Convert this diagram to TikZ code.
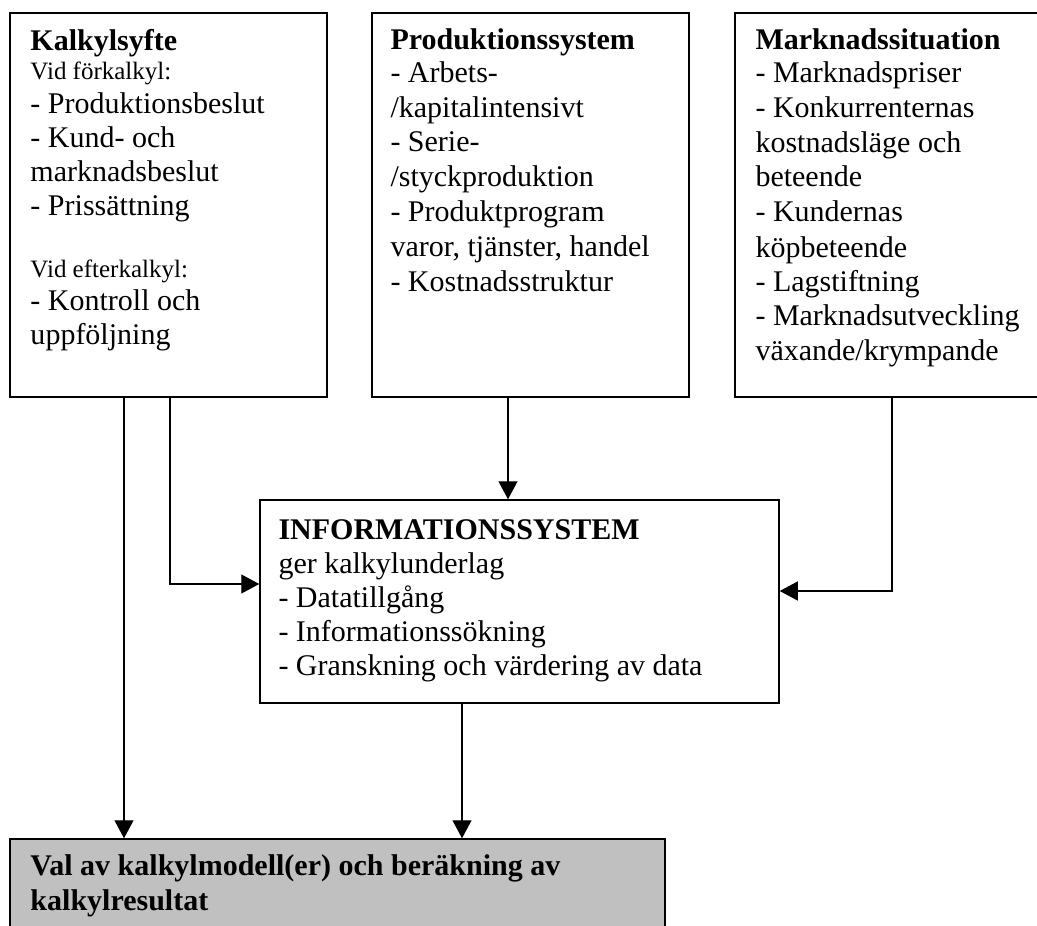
\documentclass[tikz,border=0pt]{standalone}
\usepackage{fontspec}
\setmainfont{Liberation Serif}
\usetikzlibrary{arrows.meta,fit}
\begin{document}
\begin{tikzpicture}[x=0.4pt,y=-0.4pt,
  box/.style={draw=black,line width=0.6pt,inner sep=0pt,rectangle},
  arr/.style={line width=0.5pt,-{Triangle[length=7.2pt,width=7.6pt]}},
  tx/.style={anchor=base west,inner sep=0pt,font=\fontsize{12}{14}\selectfont},
  tb/.style={tx,font=\fontsize{12}{14}\selectfont\bfseries},
  ts/.style={tx,font=\fontsize{10}{12}\selectfont}]
\clip (0,0) rectangle (1037,925);
\fill[white] (0,0) rectangle (1037,925);
% boxes
\node[box,fit={(10,13) (327,397)}] (b1) {};
\node[box,fit={(372,13) (689,397)}] (b2) {};
\node[box,fit={(735,13) (1045,397)}] (b3) {};
\node[box,fit={(260,500) (779,703)}] (info) {};
\node[box,fill={rgb,255:red,192;green,192;blue,192},fit={(10,839) (665,960)}] (res) {};
% box 1 text
\node[tb] (t11) at (30,51) {Kalkylsyfte};
\node[ts] (t12) at (30,80) {Vid förkalkyl:};
\node[tx] (t13) at (30,114) {- Produktionsbeslut};
\node[tx] (t14) at (30,148) {- Kund- och};
\node[tx] (t15) at (30,182) {marknadsbeslut};
\node[tx] (t16) at (30,216) {- Prissättning};
\node[ts] (t17) at (30,277) {Vid efterkalkyl:};
\node[tx] (t18) at (30,310) {- Kontroll och};
\node[tx] (t19) at (30,344) {uppföljning};
% box 2 text
\node[tb] (t21) at (390,50) {Produktionssystem};
\node[tx] (t22) at (390,83) {- Arbets-};
\node[tx] (t23) at (390,118) {/kapitalintensivt};
\node[tx] (t24) at (390,152) {- Serie-};
\node[tx] (t25) at (390,187) {/styckproduktion};
\node[tx] (t26) at (390,222) {- Produktprogram};
\node[tx] (t27) at (390,256) {varor, tjänster, handel};
\node[tx] (t28) at (390,291) {- Kostnadsstruktur};
% box 3 text
\node[tb] (t31) at (755,50) {Marknadssituation};
\node[tx] (t32) at (755,83) {- Marknadspriser};
\node[tx] (t33) at (755,118) {- Konkurrenternas};
\node[tx] (t34) at (755,153) {kostnadsläge och};
\node[tx] (t35) at (755,187) {beteende};
\node[tx] (t36) at (755,222) {- Kundernas};
\node[tx] (t37) at (755,257) {köpbeteende};
\node[tx] (t38) at (755,291) {- Lagstiftning};
\node[tx] (t39) at (755,325) {- Marknadsutveckling};
\node[tx] (t310) at (755,360) {växande/krympande};
% info text
\node[tb] (t41) at (278,539) {INFORMATIONSSYSTEM};
\node[tx] (t42) at (278,573) {ger kalkylunderlag};
\node[tx] (t43) at (278,607) {- Datatillgång};
\node[tx] (t44) at (278,641) {- Informationssökning};
\node[tx] (t45) at (278,675) {- Granskning och värdering av data};
% result text
\node[tb] (t51) at (30,875) {Val av kalkylmodell(er) och beräkning av};
\node[tb] (t52) at (30,910) {kalkylresultat};
% helper coordinates
\coordinate (xa1) at (124,0);
\coordinate (xa2) at (170,0);
\coordinate (xa3) at (508,0);
\coordinate (xa4) at (892,0);
\coordinate (xa5) at (462,0);
\coordinate (ya2) at (0,584);
\coordinate (ya4) at (0,591);
% connectors
\draw[arr] (b1.south -| xa1) -- (res.north -| xa1);
\draw[arr] (b1.south -| xa2) |- (info.west |- ya2);
\draw[arr] (b2.south -| xa3) -- (info.north -| xa3);
\draw[arr] (b3.south -| xa4) |- (info.east |- ya4);
\draw[arr] (info.south -| xa5) -- (res.north -| xa5);
\end{tikzpicture}
\end{document}
